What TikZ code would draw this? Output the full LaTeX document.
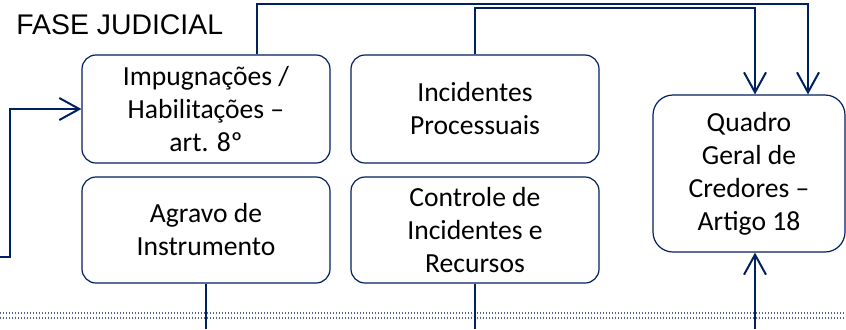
\documentclass[tikz,border=0pt]{standalone}
\usepackage{fontspec}
\setmainfont{Carlito}
\newfontfamily\titlefont{Liberation Sans}
\usetikzlibrary{arrows.meta}
\definecolor{NavyLine}{RGB}{0,32,96}
\tikzset{
  procbox/.style={draw=NavyLine, line width=0.6pt, rounded corners=7pt, fill=white,
    minimum width=124pt, minimum height=54pt, inner sep=1pt, align=center,
    font=\fontsize{13.8}{16.5}\selectfont},
  qgcbox/.style={procbox, rounded corners=10pt, minimum width=96pt, minimum height=78.5pt},
  conn/.style={-{Straight Barb[length=10pt, width=11pt]}, line width=1pt, NavyLine},
  plainconn/.style={line width=1pt, NavyLine},
  dotline/.style={NavyLine!70, line width=0.6pt, dash pattern=on 0.5pt off 1pt},
  titletxt/.style={anchor=west, inner sep=0pt, font=\titlefont\fontsize{14.2}{16}\selectfont},
}
\begin{document}
\begin{tikzpicture}[x=0.5pt, y=-0.5pt]
  \useasboundingbox (0,0) rectangle (846,329);
  % separador pontilhado
  \foreach \yy in {313,318} {
    \draw[dotline] (0,\yy) -- (846,\yy);
  }
  \node[titletxt] (fase) at (16,25) {FASE JUDICIAL};
  % caixas
  \node[procbox] (imp) at (206,109) {Impugnações /\\Habilitações –\\art. 8º};
  \node[procbox] (inc) at (475,109) {Incidentes\\Processuais};
  \node[procbox, minimum height=53pt] (agr) at (206,230) {Agravo de\\Instrumento};
  \node[procbox, minimum height=53pt] (ctl) at (475,230) {Controle de\\Incidentes e\\Recursos};
  \node[qgcbox] (qgc) at (749,173.5) {Quadro\\Geral de\\Credores –\\Artigo 18};
  % conectores
  \coordinate (entra) at (0,257);
  \coordinate (sobe) at (755,329);
  \coordinate (desceA) at (206,329);
  \coordinate (desceB) at (475,329);
  \draw[conn] (entra) -- (10,257) |- (imp.west);
  \draw[conn] (imp.north -| 257,0) |- (808,4) -- (qgc.north -| 808,0);
  \draw[conn] (inc.north) |- (755,8) -- (qgc.north -| 755,0);
  \draw[plainconn] (agr.south) -- (desceA);
  \draw[plainconn] (ctl.south) -- (desceB);
  \draw[conn] (sobe) -- (qgc.south -| sobe);
\end{tikzpicture}
\end{document}
